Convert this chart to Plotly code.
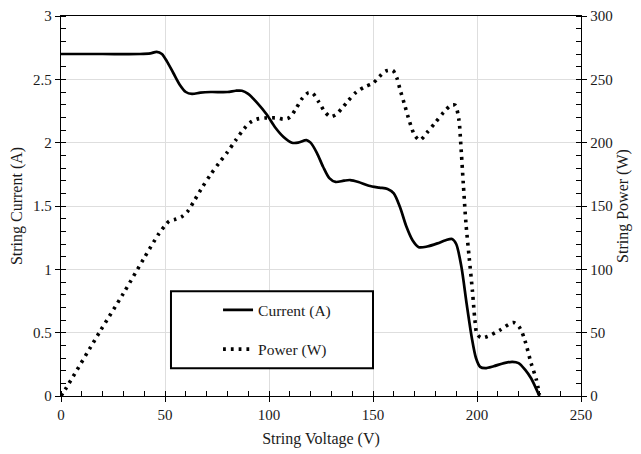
import plotly.graph_objects as go

# String current (A) vs string voltage (V)
current_v = [0, 20, 38, 43, 46, 48.5, 51, 54, 57, 60, 63, 67, 72, 80, 84, 87, 90, 94, 99, 103,
             107, 111, 114, 118, 120, 123, 126, 129, 132, 136, 139, 143, 148, 153, 157, 160,
             163, 166, 169, 172, 176, 181, 185, 188, 190, 192.5, 195, 197.5, 199.5, 201.5,
             204, 208, 213, 217, 220, 223, 226, 230]
current_a = [2.70, 2.70, 2.70, 2.705, 2.717, 2.70, 2.64, 2.55, 2.46, 2.40, 2.385, 2.395, 2.40,
             2.40, 2.41, 2.41, 2.385, 2.32, 2.22, 2.12, 2.045, 2.00, 2.00, 2.02, 2.00, 1.92,
             1.81, 1.72, 1.69, 1.70, 1.705, 1.69, 1.66, 1.645, 1.635, 1.60, 1.49, 1.34, 1.23,
             1.175, 1.18, 1.205, 1.23, 1.24, 1.20, 1.02, 0.73, 0.46, 0.30, 0.23, 0.22, 0.235,
             0.26, 0.27, 0.26, 0.21, 0.14, 0.0]

# String power (W) vs string voltage (V)
power_v = [0, 2, 18.75, 30, 40, 47, 50, 52, 55, 58, 61, 64, 68, 72, 76, 80, 84, 88, 91, 94, 98,
           104, 107, 110, 113, 116, 119, 121, 124, 127, 129.5, 132, 135, 138, 142, 146, 150,
           153, 156, 159.5, 161.5, 163, 165, 167.5, 170, 172.5, 176, 180, 184, 187.5, 189.5,
           191.3, 192.2, 193.4, 194.7, 196.2, 197.8, 199, 200, 202, 205, 211, 217.5, 220.5,
           223, 226, 228.5, 230]
power_w = [0, 5, 51, 81, 109, 128, 134.5, 138, 139.5, 141.5, 146, 154, 165, 175, 184, 192.5,
           202, 211, 216, 218.5, 219.5, 219.5, 218.5, 220, 227, 235, 239.5, 239, 232, 224,
           220.5, 222, 227, 233, 240, 244, 247, 252, 256.5, 257, 251, 242, 231, 217, 206, 202,
           208, 216, 224, 229.5, 229.5, 218, 199, 168, 136, 110, 83, 60, 49, 46, 47, 52, 58,
           54, 44, 26, 13, 1]

x_ticks = [0, 50, 100, 150, 200, 250]
y_ticks = [0, 0.5, 1, 1.5, 2, 2.5, 3]
y2_ticks = [0, 50, 100, 150, 200, 250, 300]

FONT = "Liberation Serif"
GRID = "#dedede"
TXT = "#1a1a1a"

fig = go.Figure()
fig.add_trace(go.Scatter(
    x=current_v, y=current_a, name="Current (A)", mode="lines",
    line=dict(color="black", width=2.7, shape="spline", smoothing=0.8),
    legendgroup="a", yaxis="y"))
fig.add_trace(go.Scatter(
    x=power_v, y=power_w, name="Power (W)", mode="lines",
    line=dict(color="black", width=3.6, dash="2.8px,5px", shape="spline", smoothing=0.8),
    legendgroup="b", yaxis="y2"))

def axis_common(grid=True):
    return dict(
        showline=True, linecolor="black", linewidth=1.3,
        ticks="outside", ticklen=5, tickcolor="black", tickwidth=1,
        showgrid=grid, gridcolor=GRID, gridwidth=1,
        zeroline=False, automargin=False,
        ticklabeloverflow="allow",
        tickfont=dict(family=FONT, size=15, color=TXT),
    )

TITLE_FONT = dict(family=FONT, size=16, color=TXT)

# page body has an 8px default margin, so the figure is 8px smaller and margins are shifted
fig.update_layout(
    width=633, height=446,
    margin=dict(l=53, r=60, t=8, b=58),
    paper_bgcolor="white", plot_bgcolor="white",
    font=dict(family=FONT, size=15, color=TXT),
    xaxis=dict(
        range=[0, 250], tickvals=x_ticks, mirror=True,
        minor=dict(dtick=10, ticks="inside", ticklen=5, tickcolor="black", showgrid=False),
        title=dict(text="String Voltage (V)", font=TITLE_FONT, standoff=10),
        **axis_common()),
    yaxis=dict(
        range=[0, 3], tickvals=y_ticks, ticktext=["0", "0.5", "1", "1.5", "2", "2.5", "3"],
        minor=dict(dtick=0.1, ticks="inside", ticklen=5, tickcolor="black", showgrid=False),
        title=dict(text="String Current (A)", font=TITLE_FONT, standoff=10),
        **axis_common()),
    yaxis2=dict(
        range=[0, 300], tickvals=y2_ticks, overlaying="y", side="right",
        minor=dict(dtick=10, ticks="inside", ticklen=5, tickcolor="black", showgrid=False),
        title=dict(text="String Power (W)", font=TITLE_FONT, standoff=5),
        **axis_common(False)),
    legend=dict(
        x=0.302, y=0.27, xanchor="left", yanchor="top",
        bgcolor="rgba(0,0,0,0)", borderwidth=0,
        traceorder="grouped", tracegroupgap=16,
        font=dict(family=FONT, size=15.5, color=TXT)),
    shapes=[dict(type="rect", xref="paper", yref="paper",
                 x0=0.2115, x1=0.6, y0=0.073, y1=0.2755,
                 line=dict(color="black", width=2), fillcolor="white", layer="above")],
)

fig.write_html("out.html")
